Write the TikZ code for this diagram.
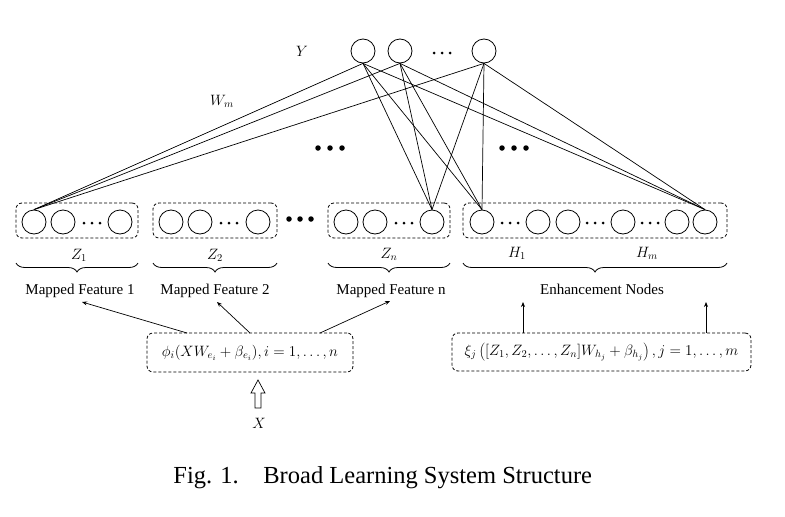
\RequirePackage{fix-cm}
\documentclass[tikz,border=0pt]{standalone}
\usepackage{fontspec}
\setmainfont{Liberation Serif}
\usetikzlibrary{decorations.pathreplacing,arrows.meta}
\begin{document}
\begin{tikzpicture}[x=1pt,y=-1pt, line width=0.8pt,
  neuron/.style={circle,draw,minimum size=24pt,inner sep=0pt},
  grp/.style={draw,rounded corners=6pt,dash pattern=on 3pt off 2pt},
  conn/.style={line width=0.7pt},
  lbl/.style={font=\fontsize{15}{18}\selectfont},
  sdot/.style={circle,fill,inner sep=0pt,minimum size=3pt},
  bdot/.style={circle,fill,inner sep=0pt,minimum size=5.5pt},
  brc/.style={decorate,decoration={brace,mirror,amplitude=9pt}},
  arr/.style={-{Stealth[length=5pt,width=4pt]},line width=0.7pt}
]
\useasboundingbox (0,0) rectangle (785,517);

% output layer
\node[neuron] (y1) at (363,51) {};
\node[neuron] (y2) at (400,51) {};
\node[neuron] (y3) at (484,51) {};
\foreach \x [count=\i] in {434,442,450} \node[sdot] (yd\i) at (\x,53) {};
\node[lbl] (ylab) at (302,51) {$Y$};
\node[lbl] (wlab) at (222,101) {$W_m$};

% big dots
\foreach \x [count=\i] in {318,330,342} \node[bdot] (ba\i) at (\x,148) {};
\foreach \x [count=\i] in {502,514,526} \node[bdot] (bb\i) at (\x,148) {};
\foreach \x [count=\i] in {289,300,311} \node[bdot] (bc\i) at (\x,219) {};

% groups
\node[grp,minimum width=122pt,minimum height=35pt] (g1) at (77,220.5) {};
\node[grp,minimum width=124pt,minimum height=35pt] (g2) at (215,220.5) {};
\node[grp,minimum width=122pt,minimum height=35pt] (g3) at (389,220.5) {};
\node[grp,minimum width=264pt,minimum height=35pt] (g4) at (595,220.5) {};

% mapped feature nodes
\node[neuron] (z1a) at (34,222) {};
\node[neuron] (z1b) at (63,222) {};
\node[neuron] (z1c) at (120,222) {};
\foreach \x [count=\i] in {84,92,100} \node[sdot] (d1\i) at (\x,223) {};
\node[neuron] (z2a) at (171,222) {};
\node[neuron] (z2b) at (200,222) {};
\node[neuron] (z2c) at (258,222) {};
\foreach \x [count=\i] in {221,229,237} \node[sdot] (d2\i) at (\x,223) {};
\node[neuron] (z3a) at (346,222) {};
\node[neuron] (z3b) at (375,222) {};
\node[neuron] (z3c) at (432,222) {};
\foreach \x [count=\i] in {396,404,412} \node[sdot] (d3\i) at (\x,223) {};

% enhancement nodes
\node[neuron] (h1) at (482,222) {};
\node[neuron] (h2) at (538,222) {};
\node[neuron] (h3) at (568,222) {};
\node[neuron] (h4) at (623,222) {};
\node[neuron] (h5) at (677,222) {};
\node[neuron] (h6) at (705,222) {};
\foreach \x [count=\i] in {502,510,518} \node[sdot] (e1\i) at (\x,223) {};
\foreach \x [count=\i] in {587,595,603} \node[sdot] (e2\i) at (\x,223) {};
\foreach \x [count=\i] in {642,650,658} \node[sdot] (e3\i) at (\x,223) {};

% connections
\foreach \t in {y1,y2,y3} {
  \foreach \b in {z1a,z3c,h1,h6} \draw[conn] (\t.south) -- (\b.north);
}

% labels under groups
\node[lbl] (zl1) at (79,255) {$Z_1$};
\node[lbl] (zl2) at (215,255) {$Z_2$};
\node[lbl] (zl3) at (389,254) {$Z_n$};
\node[lbl] (hl1) at (517,253) {$H_1$};
\node[lbl] (hl2) at (647,253) {$H_m$};

% braces
\coordinate (b1a) at (16,263); \coordinate (b1b) at (138,263);
\coordinate (b2a) at (153,263); \coordinate (b2b) at (277,263);
\coordinate (b3a) at (328,263); \coordinate (b3b) at (450,263);
\coordinate (b4a) at (463,263); \coordinate (b4b) at (727,263);
\draw[brc] (b1a) -- (b1b);
\draw[brc] (b2a) -- (b2b);
\draw[brc] (b3a) -- (b3b);
\draw[brc] (b4a) -- (b4b);

\node[lbl,anchor=base] (mf1) at (80,294) {Mapped Feature 1};
\node[lbl,anchor=base] (mf2) at (215,294) {Mapped Feature 2};
\node[lbl,anchor=base] (mf3) at (391,294) {Mapped Feature n};
\node[lbl,anchor=base] (en) at (602,294) {Enhancement Nodes};

% phi box
\node[grp,lbl,minimum width=206pt,minimum height=39pt] (phi) at (250,352.5)
  {$\phi_i(XW_{e_i}+\beta_{e_i}), i=1,\dots,n$};
\coordinate (pa1) at (187,333); \coordinate (pt1) at (82,302);
\coordinate (pa2) at (250,333); \coordinate (pt2) at (217,302);
\coordinate (pa3) at (320,333); \coordinate (pt3) at (390,301);
\draw[arr] (pa1) -- (pt1);
\draw[arr] (pa2) -- (pt2);
\draw[arr] (pa3) -- (pt3);

% xi box
\node[grp,lbl,minimum width=299pt,minimum height=38pt] (xi) at (601.5,352)
  {$\xi_j\left([Z_1,Z_2,\dots,Z_n]W_{h_j}+\beta_{h_j}\right), j=1,\dots,m$};
\coordinate (xa1) at (523,333); \coordinate (xt1) at (523,302);
\coordinate (xa2) at (706,333); \coordinate (xt2) at (706,302);
\draw[arr] (xa1) -- (xt1);
\draw[arr] (xa2) -- (xt2);

% hollow input arrow
\draw[line width=0.7pt] (255,408) -- (255,393) -- (251,393) -- (258,380) -- (265,393) -- (261,393) -- (261,408) -- cycle;
\node[lbl] (xlab) at (259,423) {$X$};

% caption
\node[anchor=base west,font=\fontsize{24.5}{28}\selectfont,inner sep=0pt] (cap1) at (173,483) {Fig. 1.};
\node[anchor=base west,font=\fontsize{24.5}{28}\selectfont,inner sep=0pt] (cap2) at (263,483) {Broad Learning System Structure};
\end{tikzpicture}
\end{document}
